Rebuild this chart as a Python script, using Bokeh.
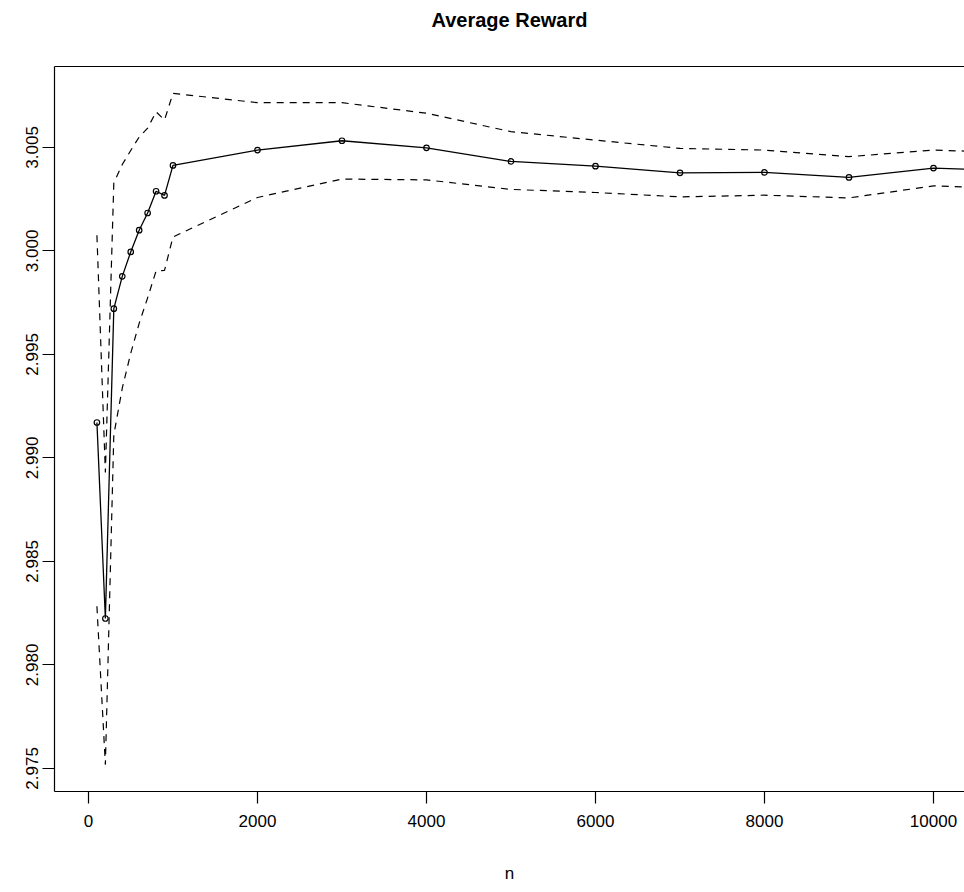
from bokeh.plotting import figure
from bokeh.models import Range1d, LinearAxis, FixedTicker, PrintfTickFormatter, ColumnDataSource
from bokeh.embed import file_html
from bokeh.resources import INLINE

# Sample sizes and the average reward with its confidence band
n = [100, 200, 300, 400, 500, 600, 700, 800, 900, 1000,
     2000, 3000, 4000, 5000, 6000, 7000, 8000, 9000, 10000, 11000]
mean_reward = [2.99171, 2.98224, 2.99721, 2.99877, 2.99995, 3.00100, 3.00183, 3.00288, 3.00268, 3.00413,
               3.00487, 3.00532, 3.00498, 3.00432, 3.00409, 3.00377, 3.00379, 3.00355, 3.00400, 3.00387]
upper = [3.00075, 2.98930, 3.00329, 3.00417, 3.00485, 3.00550, 3.00593, 3.00672, 3.00632, 3.00761,
         3.00716, 3.00716, 3.00665, 3.00576, 3.00535, 3.00495, 3.00487, 3.00455, 3.00487, 3.00474]
lower = [2.98283, 2.97518, 2.99111, 2.99337, 2.99505, 2.99650, 2.99773, 2.99903, 2.99906, 3.00067,
         3.00258, 3.00347, 3.00343, 3.00297, 3.00282, 3.00261, 3.00269, 3.00256, 3.00314, 3.00301]
x_ticks = [0, 2000, 4000, 6000, 8000, 10000]
y_ticks = [2.975, 2.980, 2.985, 2.990, 2.995, 3.000, 3.005]

FONT = "Liberation Sans"

src = ColumnDataSource(dict(n=n, mean=mean_reward, upper=upper, lower=lower))

ylo, yhi = min(lower), max(upper)
pad = 0.04 * (yhi - ylo)

p = figure(width=964, height=892, output_backend="svg", toolbar_location=None,
           x_range=Range1d(-402, 10367), y_range=Range1d(ylo - pad, yhi + pad),
           x_axis_type=None, y_axis_type=None, title=None,
           min_border_left=54, min_border_right=0, min_border_top=66, min_border_bottom=101)
p.background_fill_color = "white"
p.border_fill_color = "white"
p.outline_line_color = None
p.grid.visible = False

# bottom axis
xa = LinearAxis(ticker=FixedTicker(ticks=x_ticks), axis_label="n")
# left axis
ya = LinearAxis(ticker=FixedTicker(ticks=y_ticks), formatter=PrintfTickFormatter(format="%.3f"))
for ax in (xa, ya):
    ax.axis_line_color = "black"
    ax.axis_line_width = 1.2
    ax.major_tick_line_color = "black"
    ax.major_tick_line_width = 1.2
    ax.major_tick_out = 12
    ax.major_tick_in = 0
    ax.minor_tick_line_color = None
    ax.major_label_text_font = FONT
    ax.major_label_text_font_size = "17px"
    ax.major_label_text_color = "black"
    ax.axis_label_text_font = FONT
    ax.axis_label_text_font_size = "17px"
    ax.axis_label_text_font_style = "normal"
    ax.axis_label_text_color = "black"
xa.major_label_standoff = 11
xa.axis_label_standoff = 34
ya.major_label_orientation = "vertical"
ya.major_label_standoff = 4
p.add_layout(xa, "below")
p.add_layout(ya, "left")

# top edge of the box, carrying the main title
top = LinearAxis(ticker=FixedTicker(ticks=[]), axis_label="Average Reward")
top.axis_line_color = "black"
top.axis_line_width = 1.2
top.major_tick_line_color = None
top.major_tick_out = 0
top.major_tick_in = 0
top.minor_tick_line_color = None
top.major_label_text_font_size = "0px"
top.major_label_standoff = 0
top.axis_label_text_font = FONT
top.axis_label_text_font_size = "20px"
top.axis_label_text_font_style = "bold"
top.axis_label_text_color = "black"
top.axis_label_standoff = 36
p.add_layout(top, "above")

# confidence band
p.line("n", "upper", source=src, line_color="black", line_width=1.2, line_dash="7 6")
p.line("n", "lower", source=src, line_color="black", line_width=1.2, line_dash="7 6")
# mean reward
p.line("n", "mean", source=src, line_color="black", line_width=1.3)
p.scatter("n", "mean", source=src, marker="circle", size=5.5, fill_color=None,
          line_color="black", line_width=1.2)

open("out.html", "w").write(file_html(p, INLINE))
